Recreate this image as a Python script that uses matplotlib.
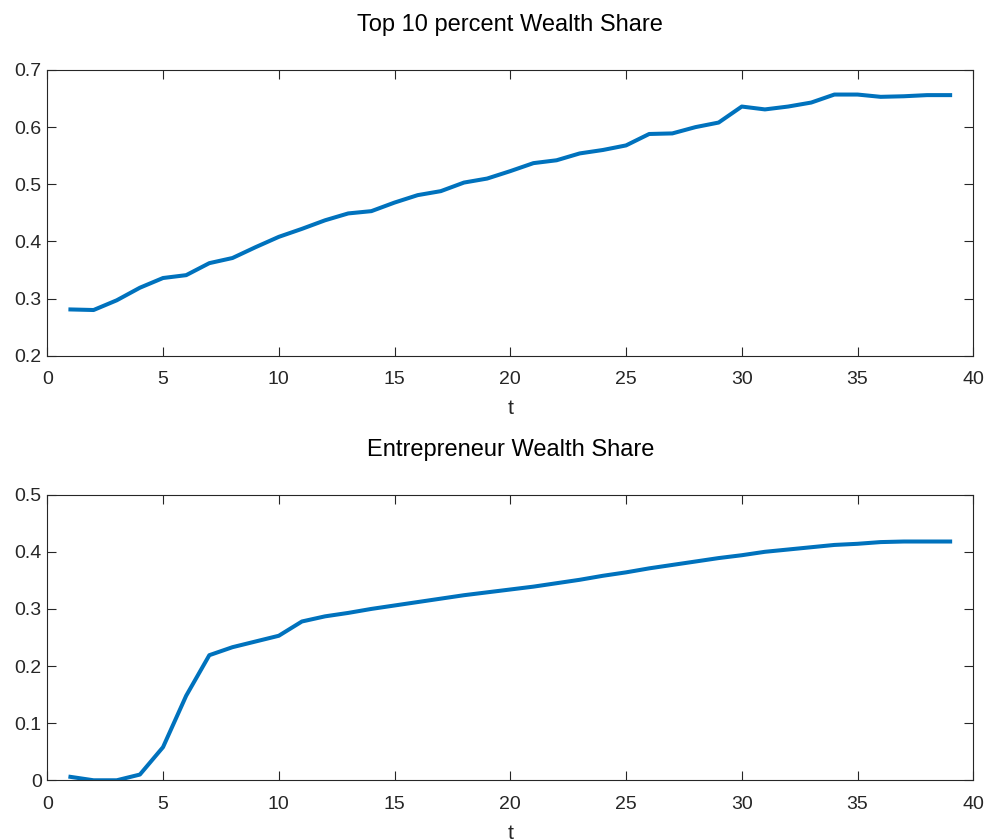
import numpy as np
import matplotlib
matplotlib.use("Agg")
import matplotlib.pyplot as plt

plt.rcParams['font.family'] = ['Liberation Sans', 'DejaVu Sans']

t = np.arange(1, 40)

top10_share = [0.281, 0.280, 0.297, 0.319, 0.336, 0.341, 0.362, 0.371, 0.390, 0.408,
               0.422, 0.437, 0.449, 0.453, 0.468, 0.481, 0.488, 0.503, 0.510, 0.523,
               0.537, 0.542, 0.554, 0.560, 0.568, 0.588, 0.589, 0.600, 0.608, 0.636,
               0.631, 0.636, 0.643, 0.657, 0.657, 0.653, 0.654, 0.656, 0.656]

entrepreneur_share = [0.006, 0.000, 0.000, 0.010, 0.058, 0.148, 0.219, 0.233, 0.243, 0.253,
                      0.278, 0.287, 0.293, 0.300, 0.306, 0.312, 0.318, 0.324, 0.329, 0.334,
                      0.339, 0.345, 0.351, 0.358, 0.364, 0.371, 0.377, 0.383, 0.389, 0.394,
                      0.400, 0.404, 0.408, 0.412, 0.414, 0.417, 0.418, 0.418, 0.418]

titles = ["Top 10 percent Wealth Share", "Entrepreneur Wealth Share"]
xticks = [0, 5, 10, 15, 20, 25, 30, 35, 40]
yticks_top = [0.2, 0.3, 0.4, 0.5, 0.6, 0.7]
yticks_bot = [0, 0.1, 0.2, 0.3, 0.4, 0.5]

line_color = "#0072BD"
axis_color = "#262626"

fig = plt.figure(figsize=(9.87, 8.40), dpi=100)
ax1 = fig.add_axes([0.0479, 0.5765, 0.9382, 0.3402])
ax2 = fig.add_axes([0.0479, 0.0711, 0.9382, 0.3400])


def style(ax, title, yticks, ylim):
    ax.set_xlim(0, 40)
    ax.set_ylim(*ylim)
    ax.set_xticks(xticks)
    ax.set_yticks(yticks)
    ax.set_yticklabels([f"{v:g}" for v in yticks])
    ax.tick_params(direction="in", length=6.5, width=0.8, colors=axis_color,
                   labelsize=14, top=True, right=True)
    ax.tick_params(axis="x", pad=11)
    ax.tick_params(axis="y", pad=4)
    for s in ax.spines.values():
        s.set_color(axis_color)
        s.set_linewidth(0.8)
    ax.set_title(title, fontsize=17, color="black", pad=28)
    ax.set_xlabel("t", fontsize=15.4, color=axis_color, labelpad=8)


ax1.plot(t, top10_share, color=line_color, linewidth=2.9)
style(ax1, titles[0], yticks_top, (0.2, 0.7))

ax2.plot(t, entrepreneur_share, color=line_color, linewidth=2.9)
style(ax2, titles[1], yticks_bot, (0, 0.5))

fig.savefig("out.png", dpi=100)
